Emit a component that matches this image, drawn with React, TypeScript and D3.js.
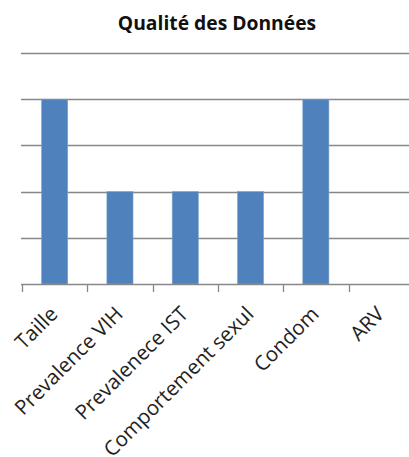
import React from "react";
import * as d3 from "d3";

const title = "Qualité des Données";
const categories = ["Taille", "Prevalence VIH", "Prevalenece IST", "Comportement sexul", "Condom", "ARV"];
const values = [4, 2, 2, 2, 4, 0];
const yTicks = [0, 1, 2, 3, 4, 5];

const W = 409;
const H = 457;

export default function App() {
  const left = 22;
  const bandW = 65.3;
  const right = left + bandW * categories.length;
  const x = d3.scaleBand<string>().domain(categories).range([left, right]).paddingInner(0).paddingOuter(0);
  const y = d3.scaleLinear().domain([0, 5]).range([284, 53]);
  const barW = x.bandwidth() * 0.4;
  const gridColor = "#878787";

  const tickXs = categories.map((c) => x(c) as number).concat([right]);

  return (
    <svg width={W} height={H} style={{ position: "fixed", left: 0, top: 0, display: "block", background: "#fff" }}>
      <text x={217} y={29.5} textAnchor="middle" fontFamily="'Open Sans', sans-serif" fontWeight="bold" fontSize={19.3} fill="#111">
        {title}
      </text>
      {yTicks.slice(1).map((t) => (
        <line key={t} x1={left - 1} x2={W + 10} y1={Math.round(y(t)) + 0.5} y2={Math.round(y(t)) + 0.5} stroke={gridColor} strokeWidth={1.3} />
      ))}
      {categories.map((c, i) => (
        <rect
          key={c}
          x={(x(c) as number) + (x.bandwidth() - barW) / 2}
          y={y(values[i])}
          width={barW}
          height={y(0) - y(values[i])}
          fill="#4F81BD"
          stroke="#7FA3CF"
          strokeWidth={0.6}
        />
      ))}
      <line x1={left - 1} x2={W + 10} y1={284.5} y2={284.5} stroke={gridColor} strokeWidth={1.3} />
      {tickXs.map((tx, i) => (
        <line key={i} x1={Math.round(tx) + 0.5} x2={Math.round(tx) + 0.5} y1={284} y2={292} stroke={gridColor} strokeWidth={1.3} />
      ))}
      {categories.map((c) => {
        const cx = (x(c) as number) + x.bandwidth() / 2;
        return (
          <text
            key={c}
            transform={`translate(${cx},${311}) rotate(-45)`}
            textAnchor="end"
            dy="0.3em"
            fontFamily="'Open Sans', sans-serif"
            fontSize={20.5}
            fill="#222"
          >
            {c}
          </text>
        );
      })}
    </svg>
  );
}
